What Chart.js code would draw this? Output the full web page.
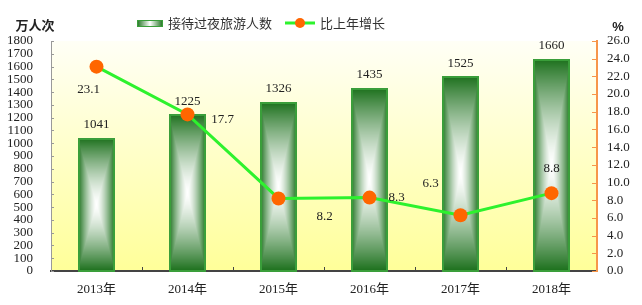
<!DOCTYPE html>
<html><head><meta charset="utf-8">
<script src="https://cdn.jsdelivr.net/npm/chart.js@4.4.0/dist/chart.umd.min.js"></script>
<style>html,body{margin:0;padding:0;background:#fff;}</style>
</head><body>
<canvas id="c" width="642" height="305"></canvas>
<script>
// ---- data ----
const categories = ['2013年','2014年','2015年','2016年','2017年','2018年'];
const visitors = [1041, 1225, 1326, 1435, 1525, 1660];
const growth = [23.1, 17.7, 8.2, 8.3, 6.3, 8.8];
const leftAxis = {min: 0, max: 1800, step: 100};
const rightAxis = {min: 0, max: 26, step: 2};
const seriesNames = ['接待过夜旅游人数', '比上年增长'];
const axisTitles = ['万人次', '%'];

// ---- styles ----
const NUM_FONT = '13px "Liberation Serif", "Noto Sans CJK SC", serif';
const CJK_FONT = '13px "Noto Sans CJK SC", sans-serif';
const EDGE = [28, 112, 28];
const CENTER = [255, 255, 255];
const BAR_BORDER = '#3a9e3a';
const LINE_COLOR = '#2df22d';
const DOT_COLOR = '#ff6600';
const RIGHT_AXIS_COLOR = '#f7964a';
const growthLabelOffsets = [[-8, 23], [35, 5], [46, 18], [27, 0], [-30, -32], [0, -25]];

function gradImage(w, h) {
  const c = document.createElement('canvas');
  c.width = Math.max(1, w); c.height = Math.max(1, h);
  const cx = c.getContext('2d');
  const img = cx.createImageData(c.width, c.height);
  const hw = c.width / 2, hh = c.height / 2;
  for (let y = 0; y < c.height; y++) {
    for (let x = 0; x < c.width; x++) {
      const dx = Math.abs(x + 0.5 - hw) / hw;
      const dy = Math.abs(y + 0.5 - hh) / hh;
      const t = Math.pow(Math.max(dx, dy), 1.4);
      const i = (y * c.width + x) * 4;
      img.data[i] = CENTER[0] + (EDGE[0] - CENTER[0]) * t;
      img.data[i + 1] = CENTER[1] + (EDGE[1] - CENTER[1]) * t;
      img.data[i + 2] = CENTER[2] + (EDGE[2] - CENTER[2]) * t;
      img.data[i + 3] = 255;
    }
  }
  cx.putImageData(img, 0, 0);
  return c;
}

const bgPlugin = {
  id: 'bg',
  beforeDraw(chart) {
    const {ctx, chartArea: a} = chart;
    const g = ctx.createLinearGradient(0, a.top, 0, a.bottom);
    g.addColorStop(0, '#fffff6');
    g.addColorStop(1, '#ffff99');
    ctx.save(); ctx.fillStyle = g;
    ctx.fillRect(a.left, a.top, a.right - a.left, a.bottom - a.top);
    ctx.restore();
  }
};

const barPlugin = {
  id: 'barGrad',
  afterDatasetDraw(chart, args) {
    if (args.index !== 0) return;
    const ctx = chart.ctx;
    args.meta.data.forEach(bar => {
      const p = bar.getProps(['x', 'y', 'base', 'width'], true);
      const L = Math.round(p.x - p.width / 2), R = Math.round(p.x + p.width / 2);
      const T = Math.round(p.y), B = Math.round(p.base);
      ctx.drawImage(gradImage(R - L, B - T), L, T);
      ctx.save();
      ctx.strokeStyle = BAR_BORDER; ctx.lineWidth = 2;
      ctx.strokeRect(L + 1, T + 1, R - L - 2, B - T - 1);
      ctx.restore();
    });
  }
};

const tickPlugin = {
  id: 'inTicks',
  afterDraw(chart) {
    const {ctx, scales} = chart;
    ctx.save();
    const y = scales.y, y1 = scales.y1, x = scales.x;
    ctx.lineWidth = 1;
    ctx.strokeStyle = '#999';
    y.ticks.forEach((t, i) => {
      const py = Math.round(y.getPixelForTick(i)) + 0.5;
      ctx.beginPath(); ctx.moveTo(y.right, py); ctx.lineTo(y.right + 3, py); ctx.stroke();
    });
    ctx.strokeStyle = RIGHT_AXIS_COLOR;
    y1.ticks.forEach((t, i) => {
      const py = Math.round(y1.getPixelForTick(i)) + 0.5;
      ctx.beginPath(); ctx.moveTo(y1.left, py); ctx.lineTo(y1.left - 5, py); ctx.stroke();
    });
    ctx.strokeStyle = '#444';
    const half = (x.getPixelForTick(1) - x.getPixelForTick(0)) / 2;
    for (let i = 1; i < x.ticks.length; i++) {
      const px = Math.round(x.getPixelForTick(i) - half) + 0.5;
      ctx.beginPath(); ctx.moveTo(px, x.top); ctx.lineTo(px, x.top - 4); ctx.stroke();
    }
    ctx.restore();
  }
};

const labelPlugin = {
  id: 'labels',
  afterDatasetsDraw(chart) {
    const ctx = chart.ctx;
    ctx.save();
    ctx.font = NUM_FONT; ctx.fillStyle = '#222';
    ctx.textAlign = 'center'; ctx.textBaseline = 'middle';
    chart.getDatasetMeta(0).data.forEach((b, i) => {
      ctx.fillText(String(visitors[i]), b.x, b.y - 13);
    });
    chart.getDatasetMeta(1).data.forEach((p, i) => {
      const o = growthLabelOffsets[i];
      ctx.fillText(growth[i].toFixed(1), p.x + o[0], p.y + o[1]);
    });
    // axis titles
    ctx.font = 'bold ' + CJK_FONT;
    ctx.fillText(axisTitles[0], 35, 25);
    ctx.font = 'bold 13px "Liberation Sans", sans-serif';
    ctx.fillText(axisTitles[1], 618, 27);
    // legend
    const ly = 23;
    const lg = ctx.createLinearGradient(137, 0, 163, 0);
    lg.addColorStop(0, 'rgb(28,112,28)'); lg.addColorStop(0.5, '#ffffff'); lg.addColorStop(1, 'rgb(28,112,28)');
    ctx.fillStyle = lg; ctx.fillRect(137, 20, 26, 7);
    ctx.strokeStyle = BAR_BORDER; ctx.lineWidth = 1; ctx.strokeRect(137.5, 20.5, 25, 6);
    ctx.fillStyle = '#333'; ctx.font = CJK_FONT; ctx.textAlign = 'left';
    ctx.fillText(seriesNames[0], 168, ly);
    ctx.strokeStyle = LINE_COLOR; ctx.lineWidth = 3;
    ctx.beginPath(); ctx.moveTo(285, ly); ctx.lineTo(315, ly); ctx.stroke();
    ctx.fillStyle = DOT_COLOR; ctx.beginPath(); ctx.arc(300, ly, 5, 0, Math.PI * 2); ctx.fill();
    ctx.fillStyle = '#333';
    ctx.fillText(seriesNames[1], 320, ly);
    ctx.restore();
  }
};

new Chart(document.getElementById('c'), {
  data: {
    labels: categories,
    datasets: [
      {type: 'bar', label: seriesNames[0], data: visitors, yAxisID: 'y', order: 1,
       backgroundColor: 'rgba(0,0,0,0)', borderWidth: 0,
       barPercentage: 0.4, categoryPercentage: 1.0},
      {type: 'line', label: seriesNames[1], data: growth, yAxisID: 'y1', order: 0,
       borderColor: LINE_COLOR, borderWidth: 3, tension: 0,
       pointRadius: 7, pointHoverRadius: 7, pointBackgroundColor: DOT_COLOR, pointBorderWidth: 0}
    ]
  },
  options: {
    responsive: false, animation: false, devicePixelRatio: 1,
    layout: {padding: {top: 41, left: 0, right: 0, bottom: 0}},
    plugins: {legend: {display: false}, tooltip: {enabled: false}},
    scales: {
      x: {
        grid: {display: false, drawTicks: false},
        border: {display: true, color: '#444', width: 2},
        ticks: {font: {family: '"Liberation Serif", "Noto Sans CJK SC"', size: 13}, color: '#222', padding: 11},
        afterFit(s) { s.height = 34; }
      },
      y: {
        position: 'left', min: leftAxis.min, max: leftAxis.max,
        grid: {display: false, drawTicks: false},
        border: {display: true, color: '#9a9a9a', width: 1},
        ticks: {stepSize: leftAxis.step, autoSkip: false, padding: 18, color: '#222',
                font: {family: '"Liberation Serif"', size: 13},
                callback: v => String(v)},
        afterFit(s) { s.width = 51; }
      },
      y1: {
        position: 'right', min: rightAxis.min, max: rightAxis.max,
        grid: {display: false, drawTicks: false},
        border: {display: true, color: RIGHT_AXIS_COLOR, width: 2},
        ticks: {stepSize: rightAxis.step, autoSkip: false, padding: 10, color: '#222',
                font: {family: '"Liberation Serif"', size: 13},
                callback: v => Number(v).toFixed(1)},
        afterFit(s) { s.width = 45; }
      }
    }
  },
  plugins: [bgPlugin, barPlugin, tickPlugin, labelPlugin]
});
</script>
</body></html>
